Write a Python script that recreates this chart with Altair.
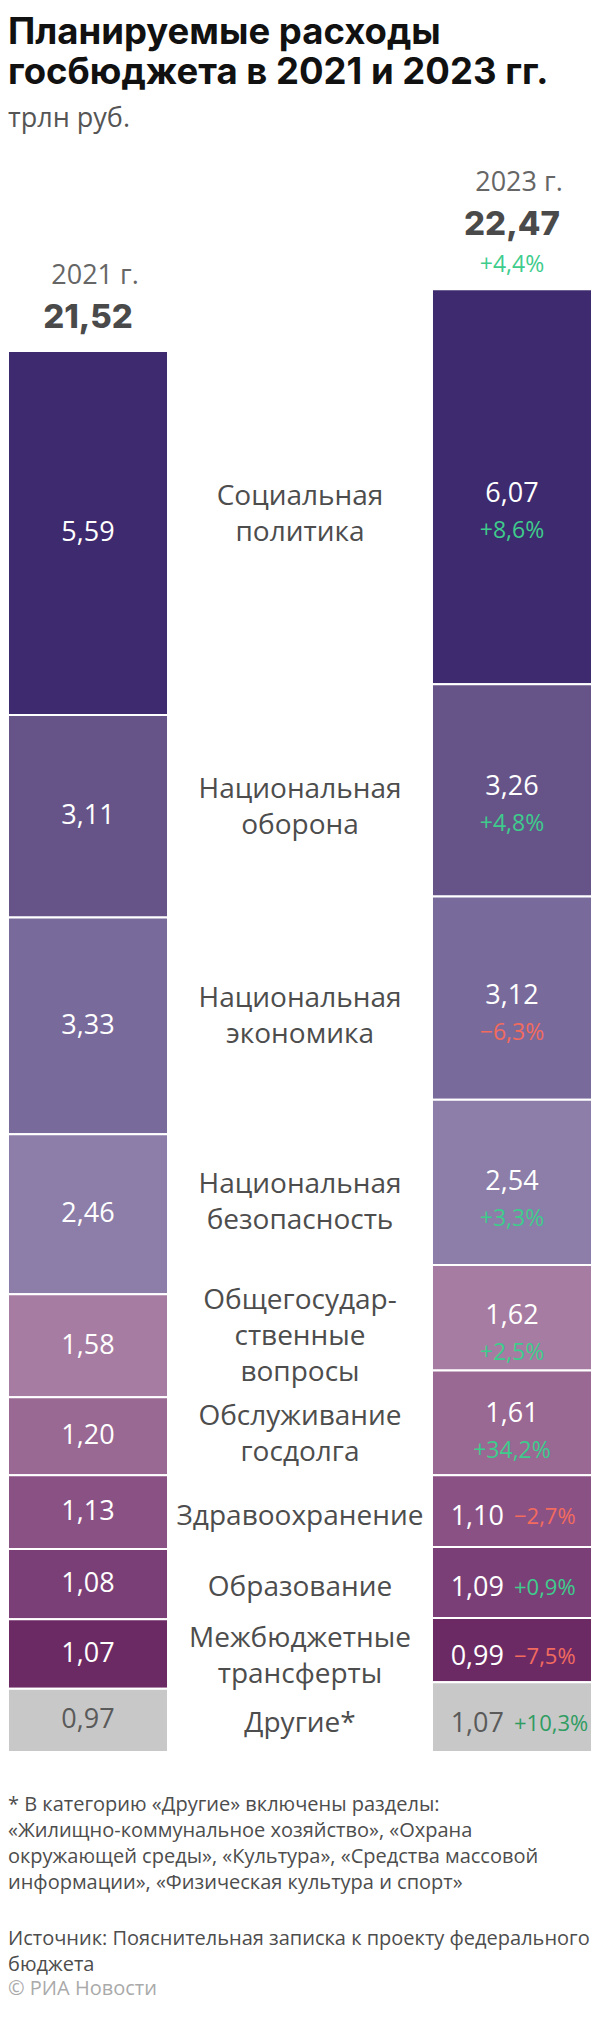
import altair as alt
import pandas as pd

# ---------------- data ----------------
categories = [
    "Социальная политика", "Национальная оборона", "Национальная экономика",
    "Национальная безопасность", "Общегосударственные вопросы",
    "Обслуживание госдолга", "Здравоохранение", "Образование",
    "Межбюджетные трансферты", "Другие*",
]
label_lines = [
    "Социальная\nполитика", "Национальная\nоборона", "Национальная\nэкономика",
    "Национальная\nбезопасность", "Общегосудар-\nственные\nвопросы",
    "Обслуживание\nгосдолга", "Здравоохранение", "Образование",
    "Межбюджетные\nтрансферты", "Другие*",
]
values_2021 = [5.59, 3.11, 3.33, 2.46, 1.58, 1.20, 1.13, 1.08, 1.07, 0.97]
values_2023 = [6.07, 3.26, 3.12, 2.54, 1.62, 1.61, 1.10, 1.09, 0.99, 1.07]
change_2023 = [8.6, 4.8, -6.3, 3.3, 2.5, 34.2, -2.7, 0.9, -7.5, 10.3]
years = ["2021", "2023"]
year_labels = ["2021 г.", "2023 г."]
totals = [21.52, 22.47]
total_change = 4.4
colors = ["#3e2a6e", "#665489", "#796a9c", "#8c7ea8", "#a77ca2",
          "#996893", "#8a5185", "#7b3f77", "#6c2a65", "#c8c8c8"]

title_lines = ["Планируемые расходы", "госбюджета в 2021 и 2023 гг."]
subtitle_text = "трлн руб."
footnote = ("* В категорию «Другие» включены разделы:\n"
            "«Жилищно-коммунальное хозяйство», «Охрана\n"
            "окружающей среды», «Культура», «Средства массовой\n"
            "информации», «Физическая культура и спорт»")
source = "Источник: Пояснительная записка к проекту федерального\nбюджета"
credit = "© РИА Новости"


def fmt(v, dec=2):
    return f"{v:.{dec}f}".replace(".", ",")


def fmt_pct(v):
    s = f"{abs(v):.1f}".replace(".", ",") + "%"
    return ("+" if v >= 0 else "−") + s


# ---------------- derived tables ----------------
rows = []
mids = {}
for yr, vals in zip(years, [values_2021, values_2023]):
    for i, v in enumerate(vals):
        start = sum(vals[i + 1:])
        rows.append(dict(year=yr, category=categories[i], y0=start, y1=start + v,
                         mid=start + v / 2, text=fmt(v)))
        mids[(yr, i)] = start + v / 2
seg = pd.DataFrame(rows)

n = len(categories)
lab = pd.DataFrame(dict(
    category=categories,
    label=label_lines,
    nlines=[s.count("\n") + 1 for s in label_lines],
    ly=[(mids[("2021", i)] + mids[("2023", i)]) / 2 for i in range(n)],
    v23=values_2023,
    text=[fmt(v) for v in values_2023],
    pct=[fmt_pct(c) for c in change_2023],
    tone=["neg" if c < 0 else ("pos_gray" if k == n - 1 else "pos")
          for k, c in enumerate(change_2023)],
    year="2023",
))

head = pd.DataFrame(dict(
    year=years, ylabel=year_labels, total=totals,
    ttext=[fmt(t) for t in totals],
    pct=["", fmt_pct(total_change)],
))

# ---------------- scales ----------------
W = 584
H = 1744
PAD_BOTTOM = 252
D = H / 65.1
yscale = alt.Scale(domain=[0, D], nice=False, zero=True)
xscale = alt.Scale(domain=years, paddingInner=0.6226, paddingOuter=0)
X = alt.X("year:N", scale=xscale, axis=None)
green, red, dgreen = "#3ecc8c", "#f26b5e", "#2f9c62"
pct_color = alt.Color("tone:N", scale=alt.Scale(domain=["pos", "neg", "pos_gray"],
                                                range=[green, red, dgreen]), legend=None)
val_color = alt.condition(alt.datum.category == "Другие*", alt.value("#5a5a5a"), alt.value("white"))

bars = alt.Chart(seg).mark_bar(stroke="white", strokeWidth=2).encode(
    x=X,
    y=alt.Y("y0:Q", scale=yscale, axis=None),
    y2="y1:Q",
    color=alt.Color("category:N", scale=alt.Scale(domain=categories, range=colors), legend=None),
)

left_vals = alt.Chart(seg).transform_filter(alt.datum.year == "2021").mark_text(
    font="Open Sans", fontSize=27, baseline="middle").encode(
    x=X, y=alt.Y("mid:Q", scale=yscale), text="text:N", color=val_color)

LH = 36
SHIFT = 5
mid_layers = []
for k in (1, 2, 3):
    mid_layers.append(
        alt.Chart(lab).transform_filter(alt.datum.nlines == k).mark_text(
            font="Open Sans", fontSize=28, lineHeight=LH, baseline="middle", align="center",
            color="#4d4d4d", lineBreak="\n", dy=-(k - 1) * LH / 2 + SHIFT).encode(
            x=alt.value(W / 2), y=alt.Y("ly:Q", scale=yscale), text="label:N")
    )

big = alt.Chart(lab).transform_filter(alt.datum.v23 >= 1.5)
right_big_val = big.mark_text(font="Open Sans", fontSize=27, baseline="middle", dy=-16).encode(
    x=X, y=alt.Y("ly:Q", scale=yscale), text="text:N", color=val_color)
right_big_pct = big.mark_text(font="Open Sans", fontSize=23, baseline="middle", dy=21).encode(
    x=X, y=alt.Y("ly:Q", scale=yscale), text="pct:N", color=pct_color)

small = alt.Chart(lab).transform_filter(alt.datum.v23 < 1.5)
right_small_val = small.mark_text(font="Open Sans", fontSize=27, baseline="middle",
                                  align="right", dx=-8, dy=SHIFT).encode(
    x=X, y=alt.Y("ly:Q", scale=yscale), text="text:N", color=val_color)
right_small_pct = small.mark_text(font="Open Sans", fontSize=22, baseline="middle",
                                  align="left", dx=2, dy=SHIFT).encode(
    x=X, y=alt.Y("ly:Q", scale=yscale), text="pct:N", color=pct_color)

h21 = alt.Chart(head).transform_filter(alt.datum.year == "2021")
h23 = alt.Chart(head).transform_filter(alt.datum.year == "2023")
Yt = alt.Y("total:Q", scale=yscale)
h21_year = h21.mark_text(font="Open Sans", fontSize=27, color="#666666", baseline="middle", dy=-75, dx=7).encode(
    x=X, y=Yt, text="ylabel:N")
h21_tot = h21.mark_text(font="Inter", fontWeight=800, fontSize=33, color="#4a4a4a", baseline="middle", dy=-33).encode(
    x=X, y=Yt, text="ttext:N")
h23_year = h23.mark_text(font="Open Sans", fontSize=27, color="#666666", baseline="middle", dy=-106, dx=7).encode(
    x=X, y=Yt, text="ylabel:N")
h23_tot = h23.mark_text(font="Inter", fontWeight=800, fontSize=33, color="#4a4a4a", baseline="middle", dy=-64).encode(
    x=X, y=Yt, text="ttext:N")
h23_pct = h23.mark_text(font="Open Sans", fontSize=23, color=green, baseline="middle", dy=-24).encode(
    x=X, y=Yt, text="pct:N")


def free_text(txt, y, **kw):
    return alt.Chart(pd.DataFrame(dict(t=[txt]))).mark_text(
        align="left", baseline="alphabetic", lineBreak="\n", **kw).encode(
        x=alt.value(0), y=alt.value(y), text="t:N")


title1 = free_text(title_lines[0], 36, font="Inter", fontWeight=700, fontSize=36.5, color="#111111")
title2 = free_text(title_lines[1], 76, font="Inter", fontWeight=700, fontSize=36.5, color="#111111")
subtitle = free_text(subtitle_text, 119, font="Open Sans", fontSize=27, color="#555555")
foot1 = free_text(footnote, 1803, font="Open Sans", fontSize=20, lineHeight=26, color="#4d4d4d")
foot2 = free_text(source, 1937, font="Open Sans", fontSize=20, lineHeight=26, color="#4d4d4d")
foot3 = free_text(credit, 1987, font="Open Sans", fontSize=20, color="#aaaaaa")

chart = alt.layer(
    bars, left_vals, *mid_layers, right_big_val, right_big_pct, right_small_val, right_small_pct,
    h21_year, h21_tot, h23_year, h23_tot, h23_pct, title1, title2, subtitle, foot1, foot2, foot3,
).properties(
    width=W, height=H,
    padding={"left": 0, "top": 0, "right": 0, "bottom": PAD_BOTTOM},
    autosize=alt.AutoSizeParams(type="none"),
).resolve_scale(color="independent").configure_view(stroke=None)

chart.save("out.html", embed_options={"renderer": "svg", "actions": False})
